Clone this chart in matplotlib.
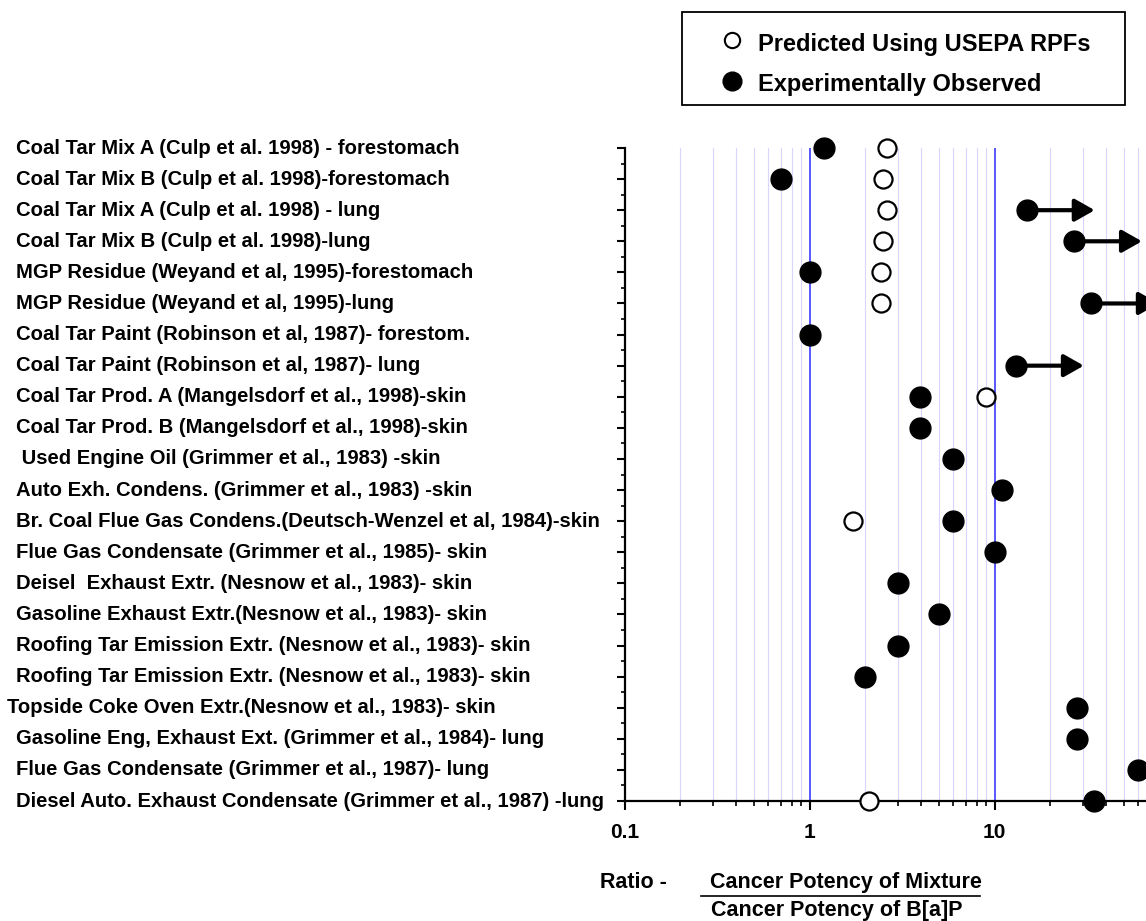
import numpy as np
import matplotlib
matplotlib.use("Agg")
import matplotlib.pyplot as plt
from matplotlib.ticker import FixedLocator, LogLocator, NullFormatter
from matplotlib.transforms import blended_transform_factory
from matplotlib.patches import Rectangle
from matplotlib.lines import Line2D

plt.rcParams['font.family'] = ['Liberation Sans', 'DejaVu Sans']
plt.rcParams['font.weight'] = 'bold'

# studies, top to bottom
studies = [
    "Coal Tar Mix A (Culp et al. 1998) - forestomach",
    "Coal Tar Mix B (Culp et al. 1998)-forestomach",
    "Coal Tar Mix A (Culp et al. 1998) - lung",
    "Coal Tar Mix B (Culp et al. 1998)-lung",
    "MGP Residue (Weyand et al, 1995)-forestomach",
    "MGP Residue (Weyand et al, 1995)-lung",
    "Coal Tar Paint (Robinson et al, 1987)- forestom.",
    "Coal Tar Paint (Robinson et al, 1987)- lung",
    "Coal Tar Prod. A (Mangelsdorf et al., 1998)-skin",
    "Coal Tar Prod. B (Mangelsdorf et al., 1998)-skin",
    " Used Engine Oil (Grimmer et al., 1983) -skin",
    "Auto Exh. Condens. (Grimmer et al., 1983) -skin",
    "Br. Coal Flue Gas Condens.(Deutsch-Wenzel et al, 1984)-skin",
    "Flue Gas Condensate (Grimmer et al., 1985)- skin",
    "Deisel  Exhaust Extr. (Nesnow et al., 1983)- skin",
    "Gasoline Exhaust Extr.(Nesnow et al., 1983)- skin",
    "Roofing Tar Emission Extr. (Nesnow et al., 1983)- skin",
    "Roofing Tar Emission Extr. (Nesnow et al., 1983)- skin",
    "Topside Coke Oven Extr.(Nesnow et al., 1983)- skin",
    "Gasoline Eng, Exhaust Ext. (Grimmer et al., 1984)- lung",
    "Flue Gas Condensate (Grimmer et al., 1987)- lung",
    "Diesel Auto. Exhaust Condensate (Grimmer et al., 1987) -lung",
]
nan = np.nan
predicted = [2.64, 2.5, 2.64, 2.5, 2.45, 2.45, nan, nan, 9.05, nan, nan,
             nan, 1.71, nan, nan, nan, nan, nan, nan, nan, nan, 2.09]
observed = [1.2, 0.7, 15, 27, 1.0, 33.3, 1.0, 13.1, 3.98, 3.95, 6.0,
            11.0, 6.0, 10.0, 3.0, 5.0, 3.0, 2.0, 28, 28, 60, 34.3]
# observed value is only a lower bound (drawn with an arrow)
lower_bound = [False, False, True, True, False, True, False, True] + [False] * 14

rows = np.arange(1, len(studies) + 1)

W, H = 1146, 921
fig = plt.figure(figsize=(W / 100, H / 100), dpi=100)

def fx(px):
    return px / W

def fy(py):
    return 1 - py / H

ax = fig.add_axes([fx(624.5), fy(801), 555 / W, (801 - 148) / H])
ax.set_xscale('log')
ax.set_xlim(0.1, 100)
ax.set_ylim(len(studies), 1)

ax.grid(which='major', axis='x', color='#3b3bff', lw=1.2)
ax.grid(which='minor', axis='x', color='#d6d6ff', lw=0.8)
ax.set_axisbelow(True)

for side in ['top', 'right']:
    ax.spines[side].set_visible(False)
for side in ['left', 'bottom']:
    ax.spines[side].set_linewidth(1.6)

ax.xaxis.set_major_locator(LogLocator(base=10, numticks=10))
ax.xaxis.set_minor_locator(LogLocator(base=10, subs=np.arange(2, 10), numticks=10))
ax.xaxis.set_minor_formatter(NullFormatter())
ax.set_xticks([0.1, 1, 10])
ax.set_xticklabels(['0.1', '1', '10'], fontsize=15, fontweight='bold')
ax.tick_params(axis='x', which='major', direction='out', length=6.5, width=1.5, pad=9)
ax.tick_params(axis='x', which='minor', direction='out', length=3.5, width=1.2)

ax.yaxis.set_major_locator(FixedLocator(rows))
ax.yaxis.set_minor_locator(FixedLocator(rows[:-1] + 0.5))
ax.tick_params(axis='y', which='major', direction='out', length=6, width=1.5, labelleft=False)
ax.tick_params(axis='y', which='minor', direction='out', length=3, width=1.2, labelleft=False)

# lower-bound arrows
for r, v, lb in zip(rows, observed, lower_bound):
    if lb:
        ax.annotate('', xy=(v * 2.32, r), xytext=(v, r), annotation_clip=False,
                    arrowprops=dict(arrowstyle='-|>,head_length=0.6,head_width=0.34',
                                    mutation_scale=20, lw=3, color='black',
                                    shrinkA=0, shrinkB=0))

ax.plot(predicted, rows, 'o', ls='none', ms=13, mfc='white', mec='black', mew=1.6,
        clip_on=False, zorder=5)
ax.plot(observed, rows, 'o', ls='none', ms=15, mfc='black', mec='black',
        clip_on=False, zorder=6)

# study labels, left aligned
trans = blended_transform_factory(fig.transFigure, ax.transData)
for r, s in zip(rows, studies):
    x0 = 7 if s.startswith('Topside') else 16
    ax.text(fx(x0), r, s, transform=trans, ha='left', va='center',
            fontsize=14.6, fontweight='bold', clip_on=False)

# axis title as a ratio
fig.text(fx(600), fy(882), 'Ratio -', ha='left', va='center', fontsize=15.5, fontweight='bold')
fig.text(fx(710), fy(882), 'Cancer Potency of Mixture', ha='left', va='center',
         fontsize=15.5, fontweight='bold')
fig.add_artist(Line2D([fx(701), fx(980)], [fy(896), fy(896)], color='black', lw=1.2))
fig.text(fx(711), fy(910), 'Cancer Potency of B[a]P', ha='left', va='center',
         fontsize=15.5, fontweight='bold')

# legend box
fig.add_artist(Rectangle((fx(682), fy(105)), (1125 - 682) / W, (105 - 12) / H,
                         transform=fig.transFigure, fill=False, ec='black', lw=1.3))
fig.add_artist(Line2D([fx(732)], [fy(40)], marker='o', ms=11, mfc='white',
                      mec='black', mew=1.5, ls='none'))
fig.add_artist(Line2D([fx(732)], [fy(81)], marker='o', ms=13.5, mfc='black',
                      mec='black', ls='none'))
fig.text(fx(758), fy(44), 'Predicted Using USEPA RPFs', ha='left', va='center',
         fontsize=17, fontweight='bold')
fig.text(fx(758), fy(84), 'Experimentally Observed', ha='left', va='center',
         fontsize=17, fontweight='bold')

fig.savefig('out.png', dpi=100)
